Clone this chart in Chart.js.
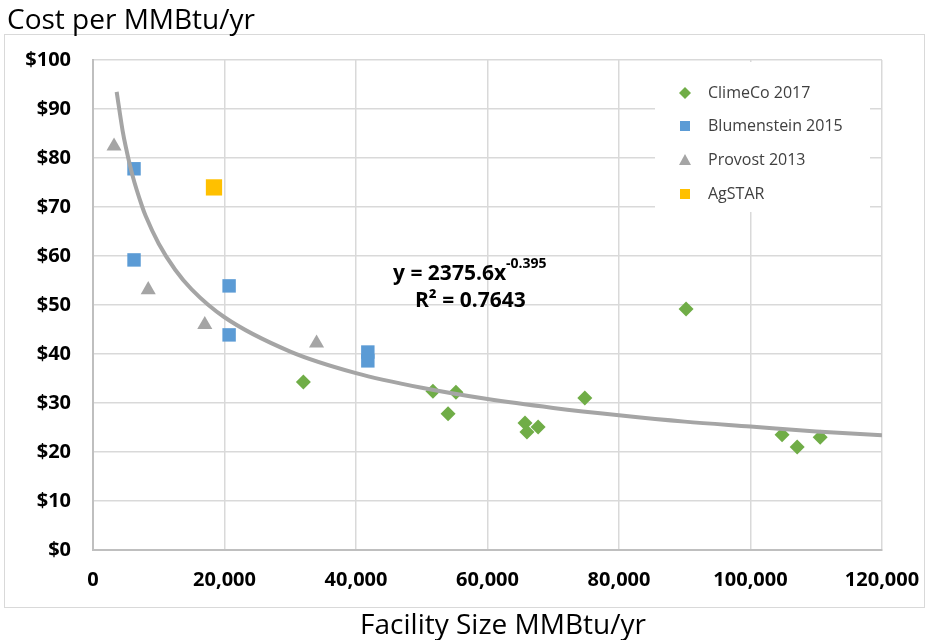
<!DOCTYPE html>
<html>
<head>
<meta charset="utf-8">
<script src="https://cdn.jsdelivr.net/npm/chart.js@4/dist/chart.umd.min.js"></script>
<style>
  html, body { margin: 0; padding: 0; background: #fff; }
  #wrap { width: 925px; height: 640px; }
</style>
</head>
<body>
<div id="wrap"><canvas id="costChart" width="925" height="640"></canvas></div>
<script>
// data
const climecoX = [32000, 51700, 55200, 54000, 65700, 66000, 67700, 74800, 90200, 104800, 107100, 110600];
const climecoY = [34.3, 32.4, 32.2, 27.8, 25.9, 24.1, 25.1, 31.0, 49.2, 23.5, 21.0, 23.0];
const blumX = [6240, 6240, 20700, 20700, 41800, 41800];
const blumY = [77.8, 59.2, 53.9, 43.9, 40.4, 38.6];
const provostX = [3200, 8400, 17000, 34000];
const provostY = [82.4, 53.1, 46.0, 42.2];
const agstarX = [18400];
const agstarY = [74.0];
// power trendline as drawn (y = 2375.6x^-0.395)
const trendX = [3600, 4500, 5000, 6000, 7500, 8000, 10000, 12500, 15000, 20000, 30000, 40000, 50000, 60000, 70000, 80000, 90000, 100000, 110000, 120000];
const trendY = [93.5, 85.6, 82.2, 76.5, 70.0, 68.2, 62.5, 57.2, 53.2, 47.5, 40.5, 36.1, 33.1, 30.8, 29.0, 27.5, 26.2, 25.2, 24.2, 23.4];

const seriesNames = ['ClimeCo 2017', 'Blumenstein 2015', 'Provost 2013', 'AgSTAR'];
const seriesColors = ['#70AD47', '#5B9BD5', '#A5A5A5', '#FFC000'];

function pts(xs, ys) {
    return xs.map((x, i) => ({ x: x, y: ys[i] }));
}

const decor = {
    id: 'decor',
    beforeDraw(chart) {
        const ctx = chart.ctx;
        ctx.save();
        ctx.fillStyle = '#fff';
        ctx.fillRect(0, 0, chart.width, chart.height);
        ctx.strokeStyle = '#d9d9d9';
        ctx.lineWidth = 1;
        ctx.strokeRect(4.5, 34.5, 920, 573);
        ctx.fillStyle = '#000';
        ctx.font = '28px "Open Sans"';
        ctx.textBaseline = 'alphabetic';
        ctx.textAlign = 'left';
        ctx.fillText('Cost per MMBtu/yr', 7, 29);
        ctx.textAlign = 'center';
        ctx.fillText('Facility Size MMBtu/yr', 503, 634);
        ctx.restore();
    },
    beforeDatasetsDraw(chart) {
        // legend box inside the plot
        const ctx = chart.ctx;
        ctx.save();
        ctx.fillStyle = '#fff';
        ctx.fillRect(655, 62, 215, 150);
        const rows = [93, 126, 160, 194];
        ctx.font = '16px "Open Sans"';
        ctx.textBaseline = 'middle';
        ctx.textAlign = 'left';
        rows.forEach((y, i) => {
            const x = 685;
            ctx.fillStyle = seriesColors[i];
            ctx.beginPath();
            if (i === 0) {
                ctx.moveTo(x, y - 6); ctx.lineTo(x + 6, y); ctx.lineTo(x, y + 6); ctx.lineTo(x - 6, y);
            } else if (i === 2) {
                ctx.moveTo(x, y - 6); ctx.lineTo(x + 6, y + 5); ctx.lineTo(x - 6, y + 5);
            } else {
                ctx.rect(x - 5, y - 5, 10, 10);
            }
            ctx.closePath();
            ctx.fill();
            ctx.fillStyle = '#404040';
            ctx.fillText(seriesNames[i], 708, y);
        });
        ctx.restore();
    },
    afterDatasetsDraw(chart) {
        const ctx = chart.ctx;
        ctx.save();
        ctx.fillStyle = '#000';
        ctx.textBaseline = 'alphabetic';
        ctx.textAlign = 'left';
        ctx.font = 'bold 21px "Open Sans"';
        const main = 'y = 2375.6x';
        ctx.fillText(main, 393, 280);
        const w = ctx.measureText(main).width;
        ctx.font = 'bold 14px "Open Sans"';
        ctx.fillText('-0.395', 393 + w, 268);
        ctx.font = 'bold 21px "Open Sans"';
        ctx.fillText('R\u00B2 = 0.7643', 415, 307);
        ctx.restore();
    }
};

const ctx = document.getElementById('costChart').getContext('2d');
const costChart = new Chart(ctx, {
    type: 'scatter',
    data: {
        datasets: [
            {
                label: 'Trend',
                type: 'line',
                data: pts(trendX, trendY),
                borderColor: '#A5A5A5',
                borderWidth: 4,
                pointRadius: 0,
                fill: false,
                cubicInterpolationMode: 'monotone',
                order: 0
            },
            {
                label: seriesNames[0],
                data: pts(climecoX, climecoY),
                backgroundColor: seriesColors[0],
                borderColor: seriesColors[0],
                pointStyle: 'rectRot',
                pointRadius: 7.5,
                borderWidth: 0,
                order: 1
            },
            {
                label: seriesNames[1],
                data: pts(blumX, blumY),
                backgroundColor: seriesColors[1],
                borderColor: seriesColors[1],
                pointStyle: 'rect',
                pointRadius: 9.5,
                borderWidth: 0,
                order: 1
            },
            {
                label: seriesNames[2],
                data: pts(provostX, provostY),
                backgroundColor: seriesColors[2],
                borderColor: seriesColors[2],
                pointStyle: 'triangle',
                pointRadius: 8.7,
                borderWidth: 0,
                order: 1
            },
            {
                label: seriesNames[3],
                data: pts(agstarX, agstarY),
                backgroundColor: seriesColors[3],
                borderColor: seriesColors[3],
                pointStyle: 'rect',
                pointRadius: 11.5,
                borderWidth: 0,
                order: 1
            }
        ]
    },
    options: {
        responsive: false,
        animation: false,
        layout: { padding: { top: 60, right: 43, bottom: 0, left: 0 } },
        plugins: {
            legend: { display: false },
            tooltip: { enabled: false }
        },
        scales: {
            x: {
                type: 'linear',
                min: 0,
                max: 120000,
                afterFit: (s) => { s.height = 90; s.paddingLeft = 0; s.paddingRight = 0; },
                ticks: {
                    stepSize: 20000,
                    padding: 18,
                    color: '#000',
                    font: { family: 'Open Sans', size: 20, weight: 'bold' },
                    callback: (v) => v.toLocaleString('en-US')
                },
                grid: { color: '#d9d9d9', lineWidth: 1.5, drawTicks: false },
                border: { color: '#bfbfbf', width: 2 }
            },
            y: {
                min: 0,
                max: 100,
                afterFit: (s) => { s.width = 93; s.paddingTop = 0; s.paddingBottom = 0; },
                ticks: {
                    stepSize: 10,
                    padding: 22,
                    color: '#000',
                    font: { family: 'Open Sans', size: 20, weight: 'bold' },
                    callback: (v) => '$' + v
                },
                grid: { color: '#d9d9d9', lineWidth: 1.5, drawTicks: false },
                border: { color: '#bfbfbf', width: 2 }
            }
        }
    },
    plugins: [decor]
});
</script>
</body>
</html>
